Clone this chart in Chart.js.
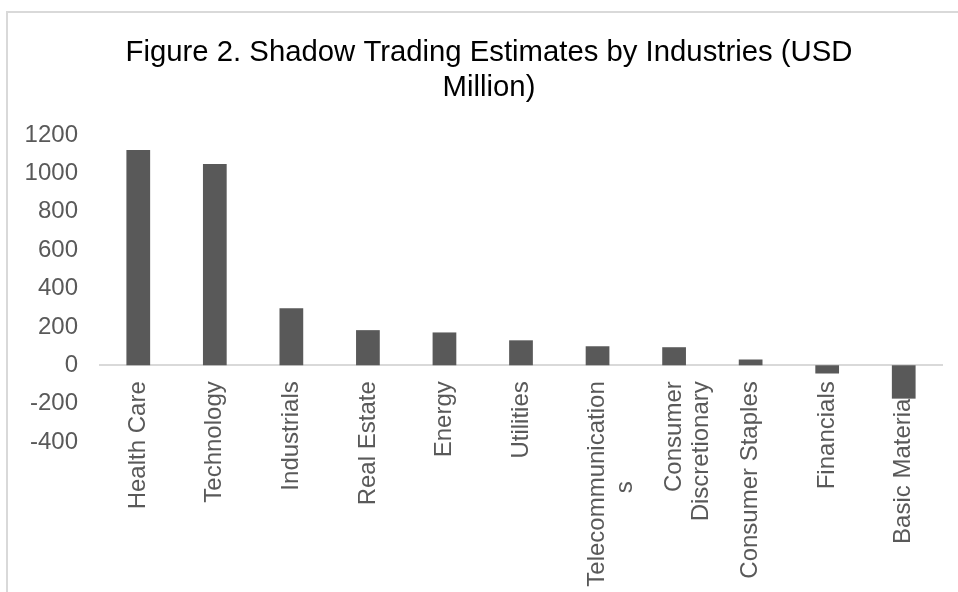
<!DOCTYPE html>
<html>
<head>
<meta charset="utf-8">
<script src="https://cdn.jsdelivr.net/npm/chart.js@4.4.1/dist/chart.umd.min.js"></script>
<style>
  html, body { margin: 0; padding: 0; background: #fff; overflow: hidden; }
  #wrap { position: relative; width: 958px; height: 592px; overflow: hidden; }
  #frame {
    position: absolute; left: 6px; top: 11px; width: 1000px; height: 700px;
    border-left: 2px solid #d9d9d9; border-top: 2px solid #d9d9d9;
  }
  canvas { position: absolute; left: 0; top: 0; }
</style>
</head>
<body>
<div id="wrap">
  <div id="frame"></div>
  <canvas id="chart" width="978" height="592" style="width:978px;height:592px"></canvas>
</div>
<script>
const industries = [
  "Health Care",
  "Technology",
  "Industrials",
  "Real Estate",
  "Energy",
  "Utilities",
  ["Telecommunication", "s"],
  ["Consumer", "Discretionary"],
  "Consumer Staples",
  "Financials",
  "Basic Materials"
]
const estimates = [1122, 1049, 297, 183, 171, 130, 99, 94, 30, -43, -174]
const yTicks = [-400, -200, 0, 200, 400, 600, 800, 1000, 1200]

const font = "'Liberation Sans', Arial, sans-serif"
const labelSize = 24

// wrapped leftovers (like the lone "s") sit centred under the line above, as in Excel
const measure = document.createElement("canvas").getContext("2d")
measure.font = labelSize + "px " + font
function centreShortLines(lines) {
  const widths = lines.map(l => measure.measureText(l).width)
  const full = Math.max(...widths)
  const space = measure.measureText(" ").width
  return lines.map((l, i) => {
    if (widths[i] > full / 2) return l
    return l + " ".repeat(Math.round((full - widths[i]) / 2 / space))
  })
}

// the Excel title is centred on the whole chart frame, not on the plot
const titleShift = {
  id: "titleShift",
  afterLayout(chart) {
    if (chart.titleBlock) chart.titleBlock.left = 36
  }
}

new Chart(document.getElementById("chart"), {
  type: "bar",
  data: {
    labels: industries,
    datasets: [
      {
        label: "Shadow trading",
        data: estimates,
        backgroundColor: "#595959",
        borderWidth: 0,
        categoryPercentage: 1,
        barPercentage: 0.31
      }
    ]
  },
  options: {
    responsive: false,
    animation: false,
    layout: {
      padding: { left: 0, right: 36, top: 0, bottom: 150 }
    },
    plugins: {
      legend: { display: false },
      tooltip: { enabled: false },
      title: {
        display: true,
        text: ["Figure 2. Shadow Trading Estimates by Industries (USD", "Million)"],
        color: "#000",
        font: { family: font, size: 29.3, weight: "normal", lineHeight: 1.2 },
        padding: { top: 35, bottom: 29.7 }
      }
    },
    scales: {
      x: {
        position: { y: 0 },
        grid: { display: false, drawTicks: false },
        border: { display: true, color: "#d9d9d9", width: 2 },
        ticks: {
          autoSkip: false,
          minRotation: 90,
          maxRotation: 90,
          padding: 16,
          color: "#595959",
          font: { family: font, size: labelSize, lineHeight: 1.15 },
          callback: function(value, index) {
            const label = industries[index]
            return Array.isArray(label) ? centreShortLines(label) : label
          }
        }
      },
      y: {
        min: yTicks[0],
        max: yTicks[yTicks.length - 1],
        afterBuildTicks: function(scale) {
          scale.ticks = yTicks.map(v => ({ value: v }))
        },
        afterFit: function(scale) {
          scale.width = 100
        },
        grid: { display: false, drawTicks: false },
        border: { display: false },
        ticks: {
          padding: 22,
          color: "#595959",
          font: { family: font, size: labelSize },
          callback: function(value) {
            return String(value)
          }
        }
      }
    }
  },
  plugins: [titleShift]
})
</script>
</body>
</html>
